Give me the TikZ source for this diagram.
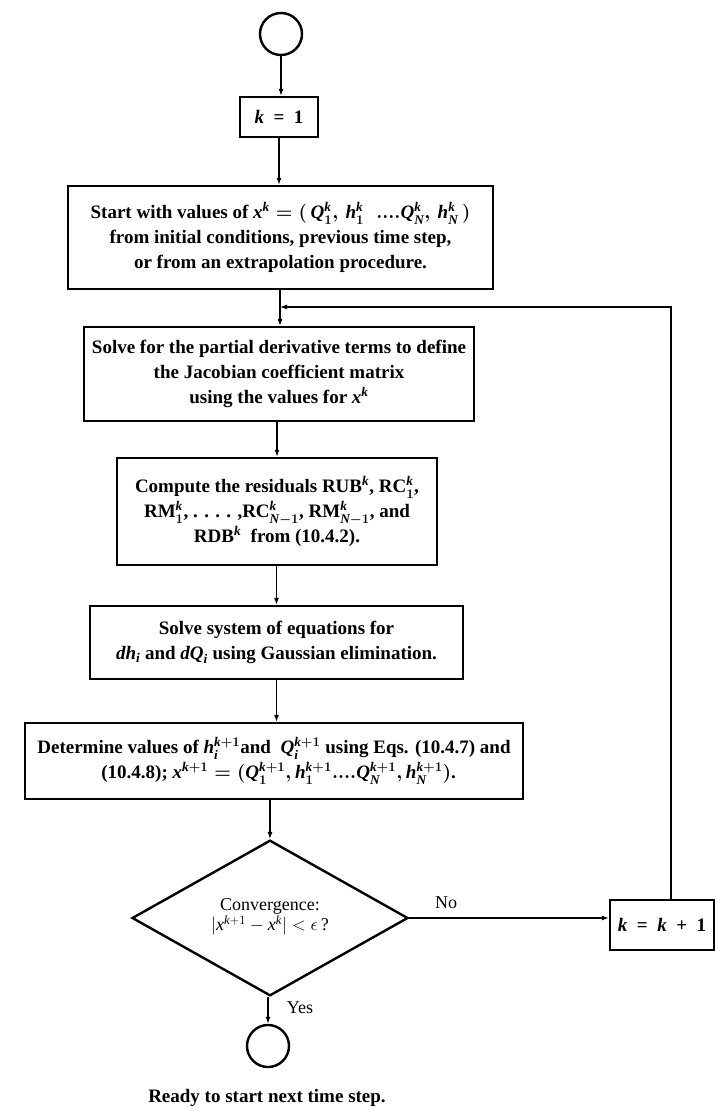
\RequirePackage{fix-cm}
\documentclass[tikz,border=0pt]{standalone}
\usepackage{fontspec}
\setmainfont{Liberation Serif}
\usetikzlibrary{shapes.geometric,arrows.meta}
\newcommand{\mv}[1]{\mathit{#1}}
\tikzset{
  boxst/.style={draw, line width=2.4pt, inner sep=0pt, align=center,
    font=\fontsize{19}{25}\selectfont\bfseries\boldmath},
  termst/.style={draw, circle, line width=2.4pt, minimum size=42pt, inner sep=0pt},
  decst/.style={draw, diamond, line width=2.4pt, inner sep=0pt, align=center,
    font=\fontsize{18}{20}\selectfont},
  conn/.style={line width=1.1pt},
  arr/.style={conn, -{Latex[length=7pt,width=5pt]}},
  lbl/.style={font=\fontsize{18}{22}\selectfont, inner sep=0pt},
  notest/.style={font=\fontsize{19}{22}\selectfont\bfseries, inner sep=0pt},
}
\begin{document}
\begin{tikzpicture}[x=1pt,y=-1pt]
\useasboundingbox (0,0) rectangle (715,1110);

\node[termst] (top) at (281,34) {};
\node[boxst, minimum width=78pt, minimum height=40pt] (k1) at (279,117) {$\mv{k}$\ \ =\ \ 1};
\node[boxst, minimum width=425pt, minimum height=103pt] (start) at (280.5,237.5)
  {Start with values of $\mv{x}^{\mv{k}} = (\,\mv{Q}_1^{\mv{k}},\, \mv{h}_1^{\mv{k}}\;\;....\mv{Q}_{\mv{N}}^{\mv{k}},\, \mv{h}_{\mv{N}}^{\mv{k}}\,)$\\
   from initial conditions, previous time step,\\
   or from an extrapolation procedure.};
\node[boxst, minimum width=390pt, minimum height=94pt] (solve) at (279,374)
  {Solve for the partial derivative terms to define\\
   the Jacobian coefficient matrix\\
   using the values for $\mv{x}^{\mv{k}}$};
\node[boxst, minimum width=320pt, minimum height=107pt] (res) at (277,511.5)
  {Compute the residuals RUB$^{\mv{k}}$, RC$_1^{\mv{k}}$,\\
   RM$_1^{\mv{k}}$, . . . . ,RC$_{\mv{N}-1}^{\mv{k}}$, RM$_{\mv{N}-1}^{\mv{k}}$, and\\
   RDB$^{\mv{k}}$\ \ from (10.4.2).};
\node[boxst, minimum width=373pt, minimum height=73pt] (sys) at (276.5,642.5)
  {Solve system of equations for\\
   $\mv{dh}_{\mv{i}}$ and $\mv{dQ}_{\mv{i}}$ using Gaussian elimination.};
\node[boxst, align=left, minimum width=498pt, minimum height=76pt] (det) at (274,761)
  {Determine values of $\mv{h}_{\mv{i}}^{\mv{k}+1}$and\ \ $\mv{Q}_{\mv{i}}^{\mv{k}+1}$ using Eqs. (10.4.7) and\\
   \rule{64pt}{0pt}(10.4.8); $\mv{x}^{\mv{k}+1} = (\mv{Q}_1^{\mv{k}+1}, \mv{h}_1^{\mv{k}+1}....\mv{Q}_{\mv{N}}^{\mv{k}+1}, \mv{h}_{\mv{N}}^{\mv{k}+1})$.};
\node[decst, minimum width=276pt, minimum height=140pt] (dia) at (270,918)
  {Convergence:\\ $|\mv{x}^{\mv{k}+1} - \mv{x}^{\mv{k}}| < \epsilon$\,?\rule[-6pt]{0pt}{1pt}};
\node[boxst, minimum width=104pt, minimum height=50pt] (kk) at (662,925)
  {$\mv{k}$\ \ =\ \ $\mv{k}$\ \ +\ \ 1};
\node[termst] (bot) at (268,1046) {};

\node[lbl] (no) at (446,903) {No};
\node[lbl] (yes) at (300,1008) {Yes};
\node[notest] (ready) at (267,1098) {Ready to start next time step.};

\coordinate (rt) at (671,307);
\coordinate (join) at (280,307);

\draw[arr] (top.south) -- (top.south |- k1.north);
\draw[arr] (k1.south) -- (k1.south |- start.north);
\draw[conn] (start.south -| join) -- (join);
\draw[arr] (join) -- (solve.north -| join);
\draw[arr] (kk.north -| rt) -- (rt) -- (join);
\draw[arr] (res.north |- solve.south) -- (res.north);
\draw[arr] (sys.north |- res.south) -- (sys.north);
\draw[arr] (sys.south) -- (sys.south |- det.north);
\draw[arr] (dia.north |- det.south) -- (dia.north);
\draw[arr] (dia.east) -- (dia.east -| kk.west);
\draw[arr] (bot.north |- dia.south) -- (bot.north);
\end{tikzpicture}
\end{document}
